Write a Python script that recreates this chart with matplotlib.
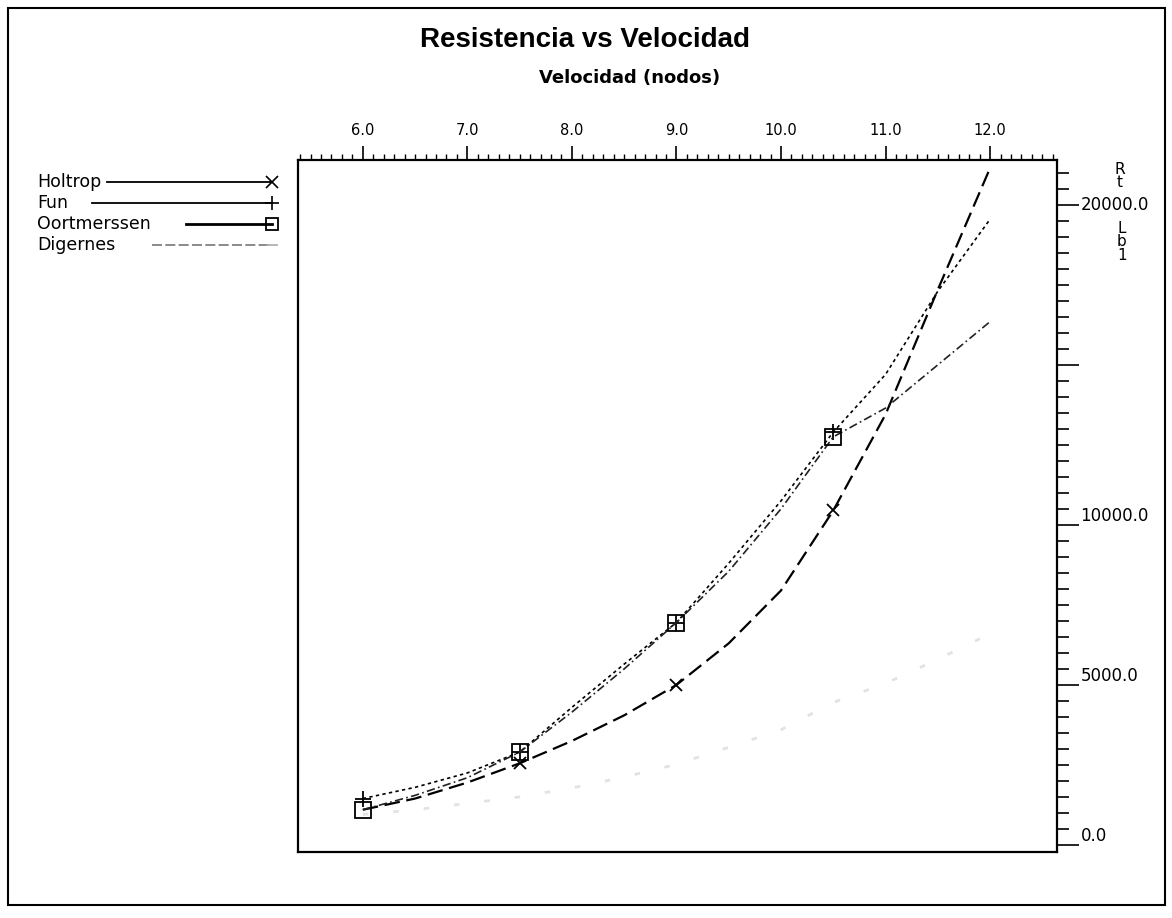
import numpy as np
import matplotlib
matplotlib.use('Agg')
import matplotlib.pyplot as plt
from matplotlib.lines import Line2D
from matplotlib.patches import Rectangle
from matplotlib.ticker import MultipleLocator, FixedLocator, FixedFormatter

plt.rcParams['font.family'] = ['DejaVu Sans']

# datos (velocidad en nudos, resistencia Rt en lb)
velocidad = [6.0, 6.5, 7.0, 7.5, 8.0, 8.5, 9.0, 9.5, 10.0, 10.5, 11.0, 11.5, 12.0]
holtrop = [1100, 1450, 1950, 2550, 3250, 4050, 5000, 6300, 7950, 10450, 13450, 17350, 21150]
fun = [1450, 1800, 2250, 2900, 4300, 5650, 6950, 8800, 10750, 12900, 14700, 17300, 19550]
oortmerssen = [1100, 1550, 2100, 2900, 4150, 5500, 6950, 8550, 10500, 12750, 13650, 15000, 16350]
digernes = [950, 1100, 1300, 1500, 1780, 2120, 2520, 3050, 3600, 4450, 5050, 5800, 6600]

x_ticks = [6.0, 7.0, 8.0, 9.0, 10.0, 11.0, 12.0]
y_ticks = [0, 5000, 10000, 15000, 20000]
y_labels = ['0.0', '5000.0', '10000.0', '', '20000.0']

W, H = 1172, 918


def fx(px):
    return px / W


def fy(py):
    return 1 - py / H


fig = plt.figure(figsize=(W / 100, H / 100), dpi=100)
ax = fig.add_axes([fx(298), fy(852), fx(1057) - fx(298), fy(160) - fy(852)])

ax.plot(velocidad, holtrop, color='black', ls=(0, (7, 3)), lw=1.6,
        marker='x', ms=9, mew=1.3, markevery=[3, 6, 9])
ax.plot(velocidad, fun, color='black', ls=(0, (2, 2)), lw=1.2,
        marker='+', ms=11, mew=1.3, markevery=[0, 3, 6, 9])
ax.plot(velocidad, oortmerssen, color='#222222', ls=(0, (5, 2, 1, 2)), lw=1.2,
        marker='s', ms=11, mew=1.3, mfc='none', mec='black', markevery=[0, 3, 6, 9])
ax.plot(velocidad, digernes, color='#e2e2e2', ls=(0, (2, 9)), lw=2.0)

ax.set_xlim(5.38, 12.64)
ax.set_ylim(-220, 21400)

for s in ax.spines.values():
    s.set_linewidth(1.6)

ax.xaxis.tick_top()
ax.xaxis.set_major_locator(FixedLocator(x_ticks))
ax.xaxis.set_major_formatter(FixedFormatter(['%.1f' % v for v in x_ticks]))
ax.xaxis.set_minor_locator(MultipleLocator(0.1))
ax.tick_params(axis='x', which='major', direction='out', length=10, width=1.2,
               labelsize=10.5, pad=6)
ax.tick_params(axis='x', which='minor', direction='out', length=4.5, width=1.0)

ax.yaxis.tick_right()
ax.yaxis.set_major_locator(FixedLocator(y_ticks))
ax.yaxis.set_major_formatter(FixedFormatter(y_labels))
ax.yaxis.set_minor_locator(MultipleLocator(500))
ax.tick_params(axis='y', which='major', direction='out', length=16, width=1.2,
               labelsize=12, pad=1)
ax.tick_params(axis='y', which='minor', direction='out', length=8.5, width=1.2)
for lab, v in zip(ax.get_yticklabels(), y_ticks):
    lab.set_va('center' if v == 20000 else 'bottom')

# textos
fig.text(fx(585), fy(40), 'Resistencia vs Velocidad', fontsize=20, fontweight='bold',
         family='Liberation Sans', ha='center', va='center')
fig.text(fx(630), fy(78), 'Velocidad (nodos)', fontsize=13, fontweight='bold',
         ha='center', va='center')
fig.text(fx(1120), fy(176), 'R\nt', fontsize=11, ha='center', va='center', linespacing=0.85)
fig.text(fx(1122), fy(242), 'L\nb\n1', fontsize=11, ha='center', va='center', linespacing=0.85)

# leyenda a la izquierda (texto primero, linea despues)
leyenda = [
    ('Holtrop', 182, 107, dict(color='black', lw=1.3, marker='x', ms=8, mew=1.2)),
    ('Fun', 203, 92, dict(color='black', lw=1.3, marker='+', ms=10, mew=1.2)),
    ('Oortmerssen', 224, 186, dict(color='black', lw=2.0, marker='s', ms=9, mew=1.3,
                                   mfc='none', mec='black')),
    ('Digernes', 245, 152, dict(color='#777777', lw=1.2, ls=(0, (6, 2)), marker='_',
                                ms=9, mew=1.2, mec='#aaaaaa')),
]
for nombre, y, x0, estilo in leyenda:
    fig.text(fx(37), fy(y), nombre, fontsize=12.5, ha='left', va='center')
    fig.add_artist(Line2D([fx(x0), fx(272)], [fy(y), fy(y)], transform=fig.transFigure,
                          markevery=[1], **estilo))

# marco exterior
fig.add_artist(Rectangle((fx(8), fy(905)), fx(1165) - fx(8), fy(8) - fy(905),
                         transform=fig.transFigure, fill=False, lw=1.5, ec='black'))

fig.savefig('out.png', dpi=100)
